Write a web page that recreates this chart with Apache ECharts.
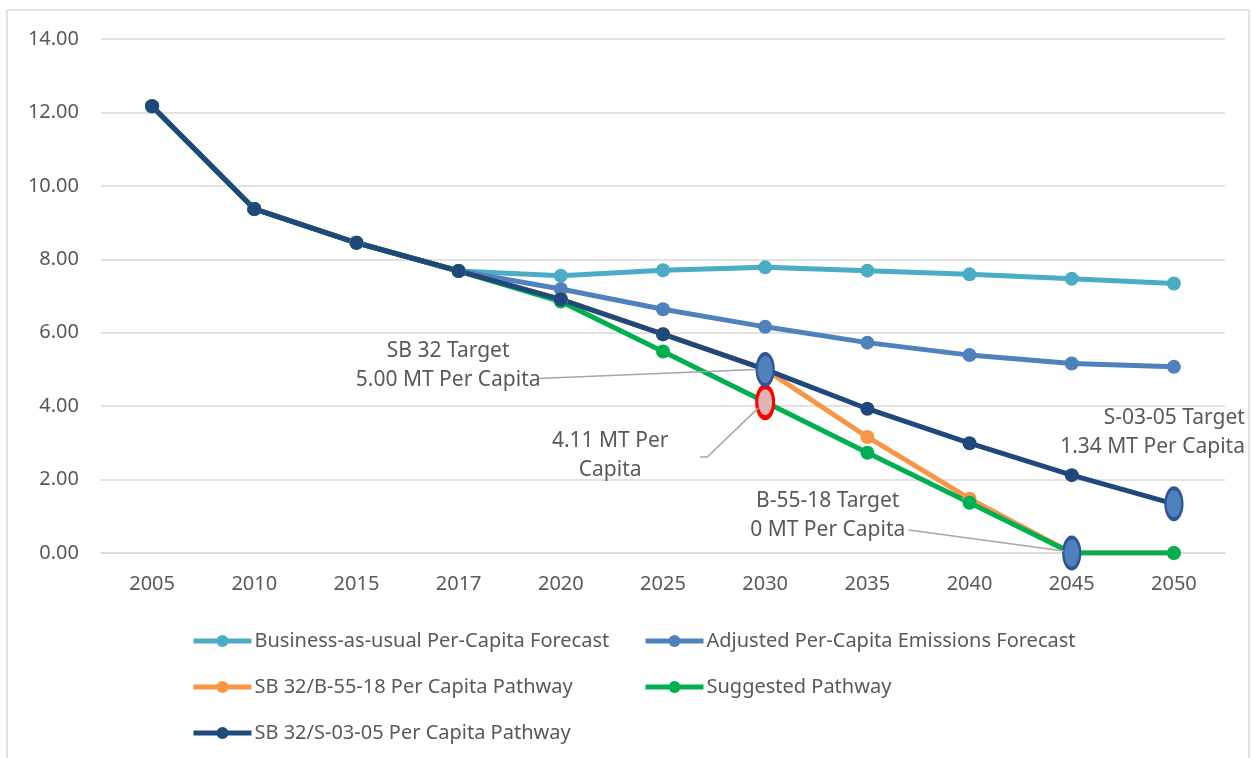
<!DOCTYPE html>
<html>
<head>
<meta charset="utf-8">
<script src="https://cdn.jsdelivr.net/npm/echarts@6/dist/echarts.min.js"></script>
<style>
  html, body { margin: 0; padding: 0; background: #fff; }
  #main { width: 1252px; height: 758px; }
</style>
</head>
<body>
<div id="main"></div>
<script>
// per-capita emissions (MT)
var years = ['2005', '2010', '2015', '2017', '2020', '2025', '2030', '2035', '2040', '2045', '2050'];
var bau = [12.17, 9.37, 8.45, 7.68, 7.55, 7.70, 7.78, 7.69, 7.59, 7.47, 7.34];
var adjusted = [12.17, 9.37, 8.45, 7.68, 7.19, 6.64, 6.16, 5.73, 5.39, 5.16, 5.07];
var sb32b5518 = [12.17, 9.37, 8.45, 7.68, 6.91, 5.96, 5.00, 3.16, 1.48, 0, 0];
var suggested = [12.17, 9.37, 8.45, 7.68, 6.85, 5.49, 4.11, 2.73, 1.37, 0, 0];
var sb32s0305 = [12.17, 9.37, 8.45, 7.68, 6.91, 5.96, 5.00, 3.93, 2.99, 2.12, 1.34];
var yTicks = ['0.00', '2.00', '4.00', '6.00', '8.00', '10.00', '12.00', '14.00'];

var FONT = 'Noto Sans';
var TXT = '#595959';
var ELLIPSE = 'path://M50,0 A50,50 0 1,1 50,100 A50,50 0 1,1 50,0 Z';

var chart = echarts.init(document.getElementById('main'));

// target markers drawn as ellipses
function blueTarget(v) {
    return { value: v, symbol: ELLIPSE, symbolSize: [17, 31],
        itemStyle: { color: '#4f81bd', borderColor: '#2f5597', borderWidth: 3 } };
}
function redTarget(v) {
    return { value: v, symbol: ELLIPSE, symbolSize: [17, 31],
        itemStyle: { color: '#e0b4b4', borderColor: '#ff0000', borderWidth: 4 } };
}

var greenData = suggested.map(function (v, i) {
    if (i === 6) return redTarget(v);
    if (i === 9) return blueTarget(v);
    return v;
});
var navyData = sb32s0305.map(function (v, i) {
    if (i === 6 || i === 10) return blueTarget(v);
    return v;
});

function lineSeries(name, color, data) {
    return {
        name: name,
        type: 'line',
        data: data,
        symbol: 'circle',
        symbolSize: 14,
        showAllSymbol: true,
        lineStyle: { color: color, width: 5 },
        itemStyle: { color: color },
        emphasis: { disabled: true }
    };
}

var legendBase = {
    top: 626, orient: 'vertical', itemGap: 26,
    itemWidth: 58, itemHeight: 15,
    lineStyle: { width: 5 },
    textStyle: { color: TXT, fontFamily: FONT, fontSize: 20, padding: [0, 0, 0, -2] }
};

var option = {
    animation: false,
    backgroundColor: '#fff',
    grid: { left: 101, right: 27, top: 39, bottom: 205 },
    xAxis: {
        type: 'category',
        data: years,
        boundaryGap: true,
        axisLine: { lineStyle: { color: '#d9d9d9', width: 1.5 } },
        axisTick: { show: false },
        axisLabel: { color: TXT, fontFamily: FONT, fontSize: 20, margin: 21 }
    },
    yAxis: {
        type: 'value',
        min: 0,
        max: 14,
        interval: 2,
        axisLine: { show: false },
        axisTick: { show: false },
        splitLine: { lineStyle: { color: '#d9d9d9', width: 1.5 } },
        axisLabel: {
            color: TXT, fontFamily: FONT, fontSize: 20, margin: 22,
            formatter: function (v) { return yTicks[Math.round(v / 2)]; }
        }
    },
    legend: [
        Object.assign({}, legendBase, {
            left: 186,
            data: ['Business-as-usual Per-Capita Forecast', 'SB 32/B-55-18 Per Capita Pathway', 'SB 32/S-03-05 Per Capita Pathway']
        }),
        Object.assign({}, legendBase, {
            left: 638,
            data: ['Adjusted Per-Capita Emissions Forecast', 'Suggested Pathway']
        })
    ],
    series: [
        lineSeries('Business-as-usual Per-Capita Forecast', '#4bacc6', bau),
        lineSeries('Adjusted Per-Capita Emissions Forecast', '#4f81bd', adjusted),
        lineSeries('SB 32/B-55-18 Per Capita Pathway', '#f79646', sb32b5518),
        lineSeries('Suggested Pathway', '#00b050', greenData),
        lineSeries('SB 32/S-03-05 Per Capita Pathway', '#1f497d', navyData)
    ]
};
chart.setOption(option);

// annotations placed relative to the target points
var p2030 = chart.convertToPixel({ seriesIndex: 4 }, [6, sb32s0305[6]]);
var r2030 = chart.convertToPixel({ seriesIndex: 3 }, [6, suggested[6]]);
var p2045 = chart.convertToPixel({ seriesIndex: 3 }, [9, suggested[9]]);
var p2050 = chart.convertToPixel({ seriesIndex: 4 }, [10, sb32s0305[10]]);

function note(x, y, text, align) {
    return {
        type: 'text', x: x, y: y, z: 100,
        style: { text: text, fill: TXT, fontFamily: FONT, fontSize: 21, lineHeight: 29,
            align: align || 'center', verticalAlign: 'top' }
    };
}
function leader(points) {
    return {
        type: 'polyline', z: 99,
        shape: { points: points },
        style: { stroke: '#a6a6a6', lineWidth: 1.5, fill: null }
    };
}

chart.setOption({
    graphic: [
        { type: 'rect', shape: { x: 7, y: 10, width: 1242, height: 800 },
          style: { fill: null, stroke: '#d9d9d9', lineWidth: 1.5 }, silent: true },
        note(p2030[0] - 317, p2030[1] - 33, 'SB 32 Target\n5.00 MT Per Capita'),
        leader([[p2030[0] - 228, p2030[1] + 9], [p2030[0] - 9, p2030[1]]]),
        note(r2030[0] - 155, r2030[1] + 24, '4.11 MT Per\nCapita'),
        leader([[r2030[0] - 65, r2030[1] + 55], [r2030[0] - 58, r2030[1] + 55], [r2030[0] - 7, r2030[1] + 6]]),
        note(p2045[0] - 244, p2045[1] - 66, 'B-55-18 Target\n0 MT Per Capita'),
        leader([[p2045[0] - 163, p2045[1] - 23], [p2045[0] - 8, p2045[1] - 2]]),
        note(p2050[0] + 71, p2050[1] - 100, 'S-03-05 Target\n1.34 MT Per Capita', 'right')
    ]
});
</script>
</body>
</html>
